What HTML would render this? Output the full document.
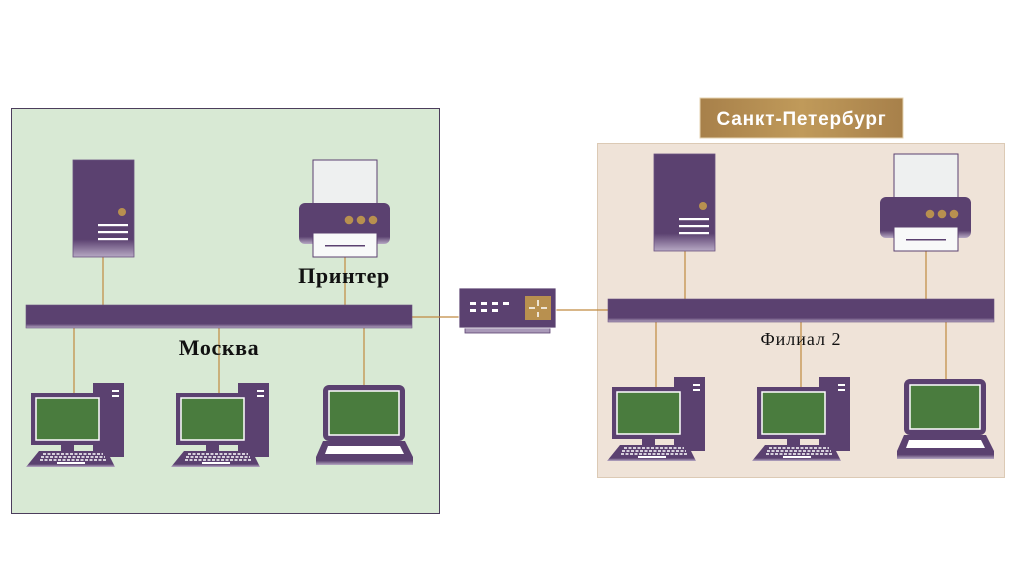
<!DOCTYPE html>
<html><head><meta charset="utf-8"><style>
html,body{margin:0;padding:0;background:#fff;}
svg{display:block;}
</style></head><body>
<svg width="1019" height="564" viewBox="0 0 1019 564" xmlns="http://www.w3.org/2000/svg">
<defs>
<linearGradient id="pg" x1="0" y1="0" x2="0" y2="1">
<stop offset="0.82" stop-color="#5b4170"/><stop offset="1" stop-color="#b7a9c4"/></linearGradient>
<linearGradient id="gold" x1="0" y1="0" x2="1" y2="0">
<stop offset="0" stop-color="#a7804a"/><stop offset="0.5" stop-color="#c09a5a"/><stop offset="1" stop-color="#a7804a"/></linearGradient>
<g id="server">
<rect x="0" y="0" width="61" height="97" fill="url(#pg)" stroke="#6a5280" stroke-width="0.8"/>
<circle cx="49" cy="52" r="4" fill="#b8904f"/>
<rect x="25" y="64" width="30" height="2.2" fill="#fff"/>
<rect x="25" y="71" width="30" height="2.2" fill="#fff"/>
<rect x="25" y="78" width="30" height="2.2" fill="#fff"/>
</g>
<g id="printer">
<rect x="14" y="0" width="64" height="44" fill="#eef0f0" stroke="#5b4170" stroke-width="1"/>
<rect x="0" y="43" width="91" height="41" rx="6" fill="url(#pg)"/>
<circle cx="50" cy="60" r="4.3" fill="#b8904f"/>
<circle cx="62" cy="60" r="4.3" fill="#b8904f"/>
<circle cx="74" cy="60" r="4.3" fill="#b8904f"/>
<rect x="14" y="73" width="64" height="24" fill="#f8f9f9" stroke="#5b4170" stroke-width="1"/>
<rect x="26" y="85" width="40" height="1.5" fill="#5b4170"/>
</g>
<g id="desk">
<rect x="62" y="-10" width="31" height="74" fill="#5b4170"/>
<rect x="81" y="-3" width="7" height="2" fill="#fff"/><rect x="81" y="2" width="7" height="2" fill="#fff"/>
<rect x="0" y="0" width="73" height="52" fill="#5b4170"/>
<rect x="5" y="5" width="63" height="42" fill="#4a7c3e" stroke="#fff" stroke-width="1.5"/>
<rect x="30" y="52" width="13" height="7" fill="#5b4170"/>
<path d="M8 58 L76 58 L84 74 L-5 74 Z" fill="url(#pg)"/>
<path d="M12 61 L72 61 M10 64 L74 64 M9 67 L76 67" stroke="#fff" stroke-width="1.5" stroke-dasharray="3 1.5"/>
<rect x="26" y="69" width="28" height="2" fill="#fff"/>
</g>
<g id="laptop">
<rect x="7" y="0" width="82" height="56" rx="6" fill="#5b4170"/>
<rect x="13" y="6" width="70" height="44" fill="#4a7c3e" stroke="#fff" stroke-width="1.5"/>
<path d="M7 56 L89 56 L97 72 L97 80 L0 80 L0 72 Z" fill="url(#pg)"/>
<path d="M12 61 L84 61 L88 69 L9 69 Z" fill="#fff"/>
</g>
</defs>

<rect x="11.5" y="108.5" width="428" height="405" fill="#d8e9d4" stroke="#4c3d5c" stroke-width="1"/>
<rect x="597.5" y="143.5" width="407" height="334" fill="#efe3d8" stroke="#dccab5" stroke-width="1"/>
<rect x="700" y="98" width="203" height="40" fill="url(#gold)" stroke="#e6d3b0" stroke-width="1"/>
<text x="801.5" y="125" text-anchor="middle" font-family="'Liberation Sans','DejaVu Sans',sans-serif" font-weight="bold" font-size="19" letter-spacing="0.8" fill="#fff">Санкт-Петербург</text>

<g stroke="#c08a40" stroke-width="1.2" fill="none">
<path d="M103 257 V305 M345 257 V305 M74 328 V393 M219 328 V393 M364 328 V385"/>
<path d="M412 317 H508 V313"/>
<path d="M556 310 H608"/>
<path d="M685 250 V299 M926 251 V299 M656 322 V387 M801 322 V387 M946 322 V379"/>
</g>

<use href="#server" x="73" y="160"/>
<use href="#printer" x="299" y="160"/>
<rect x="26" y="305" width="386" height="23" fill="url(#pg)" stroke="#6a5280" stroke-width="0.6"/>
<use href="#desk" x="31" y="393"/>
<use href="#desk" x="176" y="393"/>
<use href="#laptop" x="316" y="385"/>
<text x="344" y="283" text-anchor="middle" font-family="'Liberation Serif',serif" font-weight="bold" font-size="22" letter-spacing="0.6" fill="#111">Принтер</text>
<text x="219" y="355" text-anchor="middle" font-family="'Liberation Serif',serif" font-weight="bold" font-size="22" letter-spacing="0.6" fill="#111">Москва</text>

<rect x="465" y="328" width="85" height="5" fill="#a999b8" stroke="#5b4170" stroke-width="0.8"/>
<rect x="459" y="288" width="97" height="40" fill="#5b4170" stroke="#fff" stroke-width="0.8"/>
<g fill="#fff">
<rect x="470" y="302" width="6" height="3"/><rect x="481" y="302" width="6" height="3"/><rect x="492" y="302" width="6" height="3"/><rect x="503" y="302" width="6" height="3"/>
<rect x="470" y="309" width="6" height="3"/><rect x="481" y="309" width="6" height="3"/><rect x="492" y="309" width="6" height="3"/>
</g>
<rect x="525" y="296" width="26" height="24" fill="#b8904f"/>
<path d="M538 300 V306 M538 312 V317 M529 308 H535 M541 308 H547" stroke="#fff" stroke-width="1.5"/>

<use href="#server" x="654" y="154"/>
<use href="#printer" x="880" y="154"/>
<rect x="608" y="299" width="386" height="23" fill="url(#pg)" stroke="#6a5280" stroke-width="0.6"/>
<use href="#desk" x="612" y="387"/>
<use href="#desk" x="757" y="387"/>
<use href="#laptop" x="897" y="379"/>
<text x="801" y="345" text-anchor="middle" font-family="'Liberation Serif',serif" font-size="18" letter-spacing="1" fill="#111">Филиал 2</text>
</svg>
</body></html>
